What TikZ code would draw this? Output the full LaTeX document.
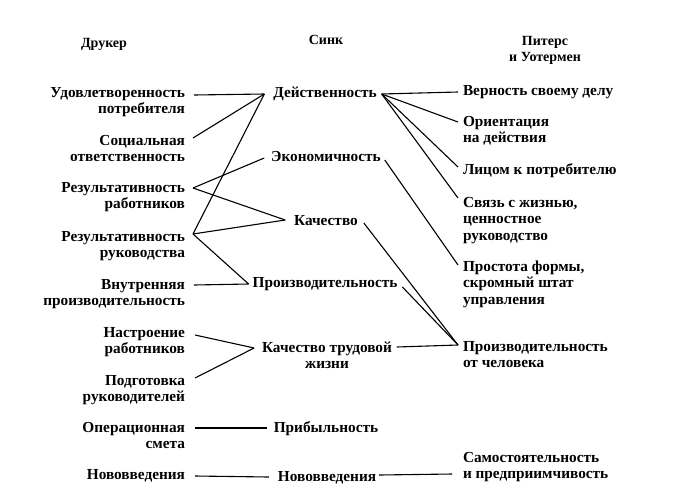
\documentclass[tikz,border=0pt]{standalone}
\usepackage{fontspec}
\setmainfont{Liberation Serif}
\usetikzlibrary{calc}
\newcommand\colR[1]{\begin{tabular}[t]{@{}r@{}}#1\end{tabular}}
\newcommand\colL[1]{\begin{tabular}[t]{@{}l@{}}#1\end{tabular}}
\newcommand\colC[1]{\begin{tabular}[t]{@{}c@{}}#1\end{tabular}}
\begin{document}
\begin{tikzpicture}[x=1pt,y=-1pt,
  txt/.style={font=\fontsize{15.3}{16.5}\selectfont\bfseries, inner sep=0pt, outer sep=0pt},
  lefttxt/.style={txt, anchor=base east},
  midtxt/.style={txt, anchor=base},
  righttxt/.style={txt, anchor=base west},
  head/.style={font=\fontsize{14}{16}\selectfont\bfseries, inner sep=0pt, anchor=base},
  conn/.style={line width=1.1pt, black}]
\useasboundingbox (0,0) rectangle (675,499);
\fill[white] (0,0) rectangle (675,499);
% headers
\node[head] (h1) at (104,47) {Друкер};
\node[head] (h2) at (326,44) {Синк};
\node[head] (h3) at (545,45) {\colC{Питерс\\и Уотермен}};
% left column
\node[lefttxt] (l1) at (185,97) {\colR{Удовлетворенность\\потребителя}};
\node[lefttxt] (l2) at (185,145) {\colR{Социальная\\ответственность}};
\node[lefttxt] (l3) at (185,192) {\colR{Результативность\\работников}};
\node[lefttxt] (l4) at (185,241) {\colR{Результативность\\руководства}};
\node[lefttxt] (l5) at (185,289) {\colR{Внутренняя\\производительность}};
\node[lefttxt] (l6) at (185,337) {\colR{Настроение\\работников}};
\node[lefttxt] (l7) at (185,385) {\colR{Подготовка\\руководителей}};
\node[lefttxt] (l8) at (185,432) {\colR{Операционная\\смета}};
\node[lefttxt] (l9) at (185,479) {Нововведения};
% middle column
\node[midtxt] (m1) at (325,97) {Действенность};
\node[midtxt] (m2) at (326,161) {Экономичность};
\node[midtxt] (m3) at (326,225) {Качество};
\node[midtxt] (m4) at (325,287) {Производительность};
\node[midtxt] (m5) at (327,352) {\colC{Качество трудовой\\жизни}};
\node[midtxt] (m6) at (326,432) {Прибыльность};
\node[midtxt] (m7) at (327,481) {Нововведения};
% right column
\node[righttxt] (r1) at (463,95) {Верность своему делу};
\node[righttxt] (r2) at (463,126) {\colL{Ориентация\\на действия}};
\node[righttxt] (r3) at (463,174) {Лицом к потребителю};
\node[righttxt] (r4) at (463,207) {\colL{Связь с жизнью,\\ценностное\\руководство}};
\node[righttxt] (r5) at (463,271) {\colL{Простота формы,\\скромный штат\\управления}};
\node[righttxt] (r6) at (463,351) {\colL{Производительность\\от человека}};
\node[righttxt] (r7) at (463,462) {\colL{Самостоятельность\\и предприимчивость}};
% left connectors
\draw[conn] ($(l1.base east)+(9,-2)$) -- ($(m1.base west)+(-9,-3)$);
\draw[conn] ($(l2.base east)+(8,-7)$) -- ($(m1.base west)+(-9,-3)$);
\draw[conn] ($(l4.base east)+(8,-7)$) -- ($(m1.base west)+(-9,-3)$);
\draw[conn] ($(l3.base east)+(8,-4)$) -- ($(m2.base west)+(-7,-3)$);
\draw[conn] ($(l3.base east)+(8,-4)$) -- ($(m3.base west)+(-9,-5)$);
\draw[conn] ($(l4.base east)+(8,-7)$) -- ($(m3.base west)+(-9,-5)$);
\draw[conn] ($(l4.base east)+(8,-7)$) -- ($(m4.base west)+(-4,-3)$);
\draw[conn] ($(l5.base east)+(9,-4)$) -- ($(m4.base west)+(-4,-3)$);
\draw[conn] ($(l6.base east)+(10,-2)$) -- ($(m5.base west)+(-8,-4)$);
\draw[conn] ($(l7.base east)+(10,-7)$) -- ($(m5.base west)+(-8,-4)$);
\draw[conn] ($(l8.base east)+(10,-4)$) -- ($(m6.base west)+(-7,-4)$);
\draw[conn] ($(l9.base east)+(10,-3)$) -- ($(m7.base west)+(-9,-4)$);
% right connectors
\draw[conn] ($(m1.base east)+(5,-3)$) -- ($(r1.base west)+(-5,-3)$);
\draw[conn] ($(m1.base east)+(5,-3)$) -- ($(r2.base west)+(-5,-4)$);
\draw[conn] ($(m1.base east)+(5,-3)$) -- ($(r3.base west)+(-5,-7)$);
\draw[conn] ($(m1.base east)+(5,-3)$) -- ($(r4.base west)+(-5,-9)$);
\draw[conn] ($(m2.base east)+(4,-1)$) -- ($(r5.base west)+(-5,-6)$);
\draw[conn] ($(m3.base east)+(6,-2)$) -- ($(r6.base west)+(-5,-6)$);
\draw[conn] ($(m4.base east)+(5,0)$) -- ($(r6.base west)+(-5,-6)$);
\draw[conn] ($(m5.base east)+(5,-5)$) -- ($(r6.base west)+(-5,-6)$);
\draw[conn] ($(m7.base east)+(3,-6)$) -- ($(r7.base west)+(-11,12)$);
\end{tikzpicture}
\end{document}
